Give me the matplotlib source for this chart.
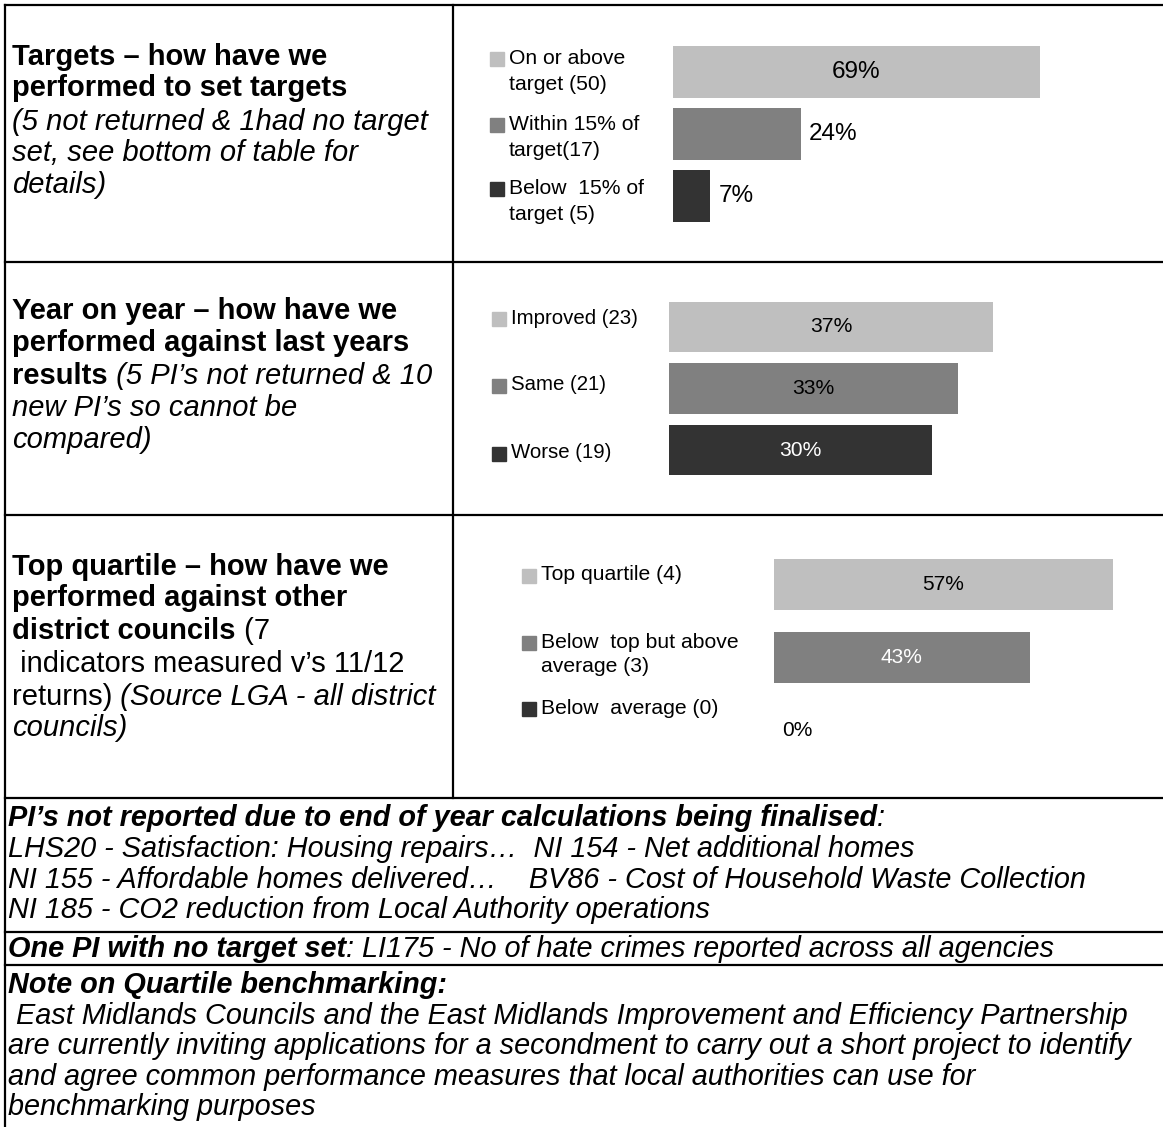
import matplotlib.pyplot as plt
from matplotlib.patches import Rectangle

plt.rcParams['font.family'] = ['Liberation Sans', 'DejaVu Sans']

# data
targets_labels = ["On or above\ntarget (50)", "Within 15% of\ntarget(17)", "Below  15% of\ntarget (5)"]
targets_pct = [69, 24, 7]

yoy_labels = ["Improved (23)", "Same (21)", "Worse (19)"]
yoy_pct = [37, 33, 30]

quart_labels = ["Top quartile (4)", "Below  top but above\naverage (3)", "Below  average (0)"]
quart_pct = [57, 43, 0]

colors = ['#bfbfbf', '#808080', '#333333']

W, H = 1163, 1127
fig = plt.figure(figsize=(W / 100, H / 100), dpi=100)
bg = fig.add_axes([0, 0, 1, 1])
bg.set_xlim(0, W)
bg.set_ylim(H, 0)
bg.axis('off')
renderer = fig.canvas.get_renderer()

# table lines
lw = 1.6
bg.plot([5, 5], [5, H], color='black', lw=lw)
bg.plot([453, 453], [5, 798], color='black', lw=lw)
for y in [5, 262, 515, 798, 932, 965]:
    bg.plot([5, W], [y, y], color='black', lw=lw)

LEFT = 21
BOT = 20.8


def line(x, y, parts, size):
    for txt, weight, style in parts:
        t = bg.text(x, y, txt, fontsize=size, fontweight=weight, fontstyle=style,
                    va='center', ha='left')
        x += t.get_window_extent(renderer).width


B = ('bold', 'normal')
I = ('normal', 'italic')
N = ('normal', 'normal')
BI = ('bold', 'italic')

# left column
line(12, 57, [("Targets \u2013 how have we",) + B], LEFT)
line(12, 88, [("performed to set targets",) + B], LEFT)
line(12, 122, [("(5 not returned & 1had no target",) + I], LEFT)
line(12, 153, [("set, see bottom of table for",) + I], LEFT)
line(12, 185, [("details)",) + I], LEFT)

line(12, 311, [("Year on year \u2013 how have we",) + B], LEFT)
line(12, 343, [("performed against last years",) + B], LEFT)
line(12, 376, [("results",) + B, (" (5 PI\u2019s not returned & 10",) + I], LEFT)
line(12, 408, [("new PI\u2019s so cannot be",) + I], LEFT)
line(12, 440, [("compared)",) + I], LEFT)

line(12, 567, [("Top quartile \u2013 how have we",) + B], LEFT)
line(12, 598, [("performed against other",) + B], LEFT)
line(12, 631, [("district councils",) + B, (" (7",) + N], LEFT)
line(12, 664, [(" indicators measured v\u2019s 11/12",) + N], LEFT)
line(12, 697, [("returns)",) + N, (" (Source LGA - all district",) + I], LEFT)
line(12, 728, [("councils)",) + I], LEFT)

# bottom rows
line(8, 818, [("PI\u2019s not reported due to end of year calculations being finalised",) + BI, (":",) + I], BOT)
line(8, 849, [("LHS20 - Satisfaction: Housing repairs\u2026  NI 154 - Net additional homes",) + I], BOT)
line(8, 880, [("NI 155 - Affordable homes delivered\u2026    BV86 - Cost of Household Waste Collection",) + I], BOT)
line(8, 910, [("NI 185 - CO2 reduction from Local Authority operations",) + I], BOT)
line(8, 949, [("One PI with no target set",) + BI, (": LI175 - No of hate crimes reported across all agencies",) + I], BOT)
line(8, 985, [("Note on Quartile benchmarking:",) + BI], BOT)
line(8, 1016, [(" East Midlands Councils and the East Midlands Improvement and Efficiency Partnership",) + I], BOT)
line(8, 1046, [("are currently inviting applications for a secondment to carry out a short project to identify",) + I], BOT)
line(8, 1077, [("and agree common performance measures that local authorities can use for",) + I], BOT)
line(8, 1107, [("benchmarking purposes",) + I], BOT)


def chart(vals, labels, left, right, scale, top, bottom, bh, leg_x, leg_y, leg_fs, leg_sp,
          pct_fs, inside, lab_cols):
    ax = fig.add_axes([left / W, 1 - bottom / H, (right - left) / W, (bottom - top) / H])
    ax.set_xlim(0, (right - left) / scale)
    ax.set_ylim(len(vals) - 0.5, -0.5)
    ax.axis('off')
    ypos = list(range(len(vals)))
    ax.barh(ypos, vals, height=bh, color=colors)
    for i, v in enumerate(vals):
        if inside[i]:
            ax.text(v / 2, i, f"{v}%", ha='center', va='center', fontsize=pct_fs, color=lab_cols[i])
        else:
            ax.annotate(f"{v}%", (v, i), xytext=(6, 0), textcoords='offset points',
                        ha='left', va='center', fontsize=pct_fs, color=lab_cols[i])
    # legend
    for i, lab in enumerate(labels):
        y = leg_y[i]
        bg.add_patch(Rectangle((leg_x, y - 6), 14, 14, color=colors[i]))
        for k, part in enumerate(lab.split('\n')):
            bg.text(leg_x + 19, y + k * leg_sp, part, fontsize=leg_fs, va='center', ha='left')


chart(targets_pct, targets_labels, 673, 1140, 367 / 69, 41, 227, 0.84,
      490, [58, 124, 188], 15.2, 27, 17.5, [True, False, False], ['black', 'black', 'black'])
chart(yoy_pct, yoy_labels, 669, 1140, 324 / 37, 296, 481, 0.82,
      492, [318, 385, 453], 14.7, 26, 15.2, [True, True, True], ['black', 'black', 'white'])
chart(quart_pct, quart_labels, 774, 1140, 339 / 57, 548, 767, 0.71,
      522, [575, 642, 708], 15.2, 25, 15, [True, True, False], ['black', 'white', 'black'])

fig.savefig('out.png', dpi=100)
